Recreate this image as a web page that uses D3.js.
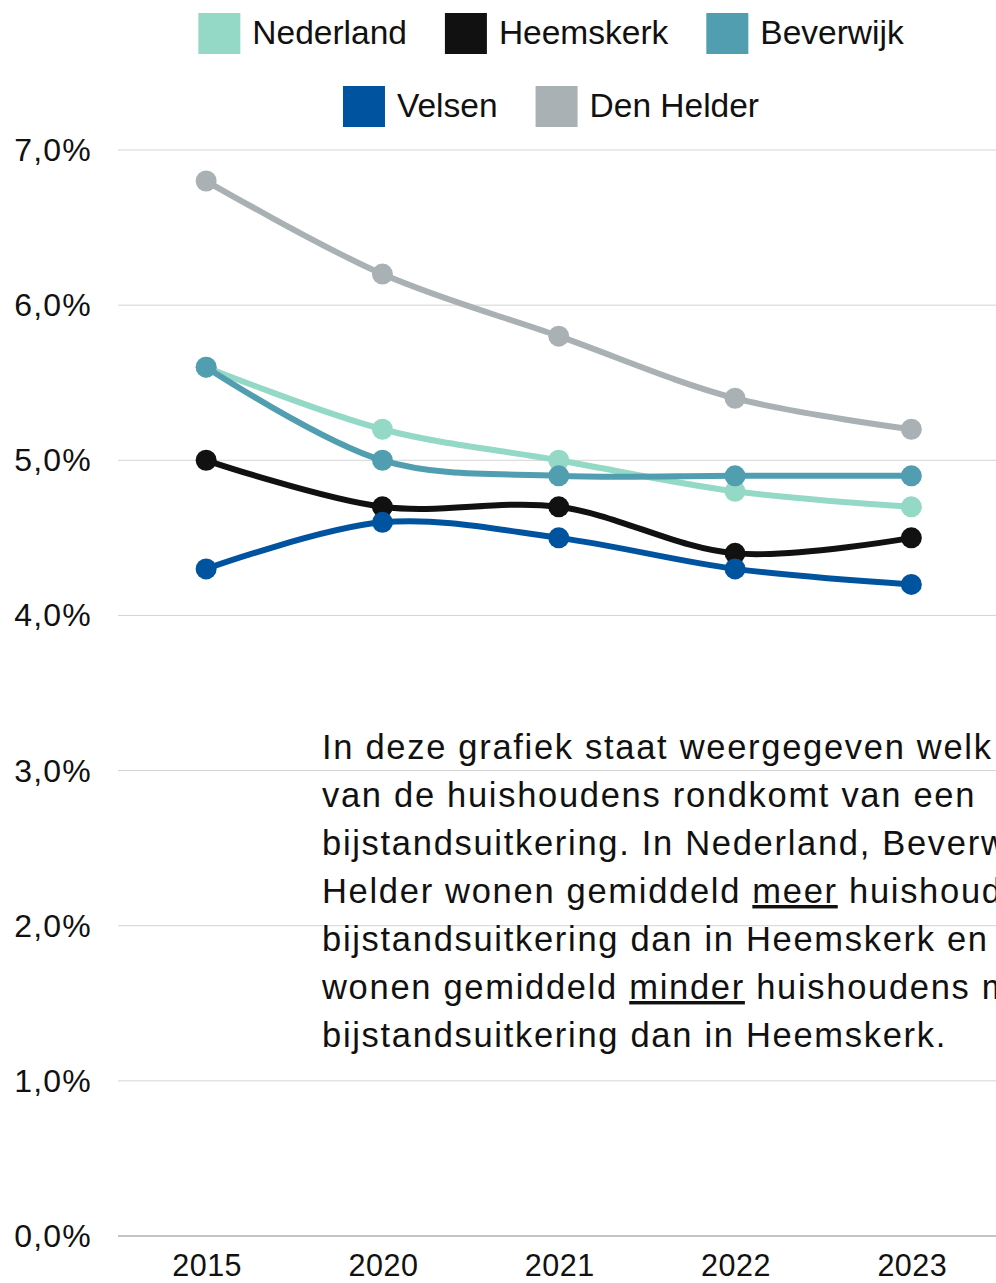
<!DOCTYPE html>
<html lang="nl">
<head>
  <meta charset="UTF-8" />
  <title>Bijstandsuitkering</title>
  <style>
    html, body { margin: 0; padding: 0; background: #ffffff; overflow: hidden; }
    svg { display: block; font-family: "Liberation Sans", Arial, sans-serif; }
    .grid line { stroke: #d4d4d4; stroke-width: 1px; }
    .y-label { font-size: 32px; letter-spacing: 1.2px; fill: #111; }
    .x-label { font-size: 30.5px; letter-spacing: 0.5px; fill: #111; }
    .legend-label { font-size: 33.5px; fill: #111; }
    .note { font-size: 34.5px; letter-spacing: 1.7px; fill: #111; }
  </style>
  <script src="https://d3js.org/d3.v7.min.js"></script>
</head>
<body>
  <svg id="canvas" width="996" height="1283"></svg>

  <script>
    const years = ["2015", "2020", "2021", "2022", "2023"];
    const seriesNames = ["Nederland", "Heemskerk", "Beverwijk", "Velsen", "Den Helder"];
    const colors = ["#94d8c6", "#111111", "#519eb1", "#00539e", "#a9b1b4"];
    const nederland = [5.6, 5.2, 5.0, 4.8, 4.7];
    const heemskerk = [5.0, 4.7, 4.7, 4.4, 4.5];
    const beverwijk = [5.6, 5.0, 4.9, 4.9, 4.9];
    const velsen = [4.3, 4.6, 4.5, 4.3, 4.2];
    const denHelder = [6.8, 6.2, 5.8, 5.4, 5.2];
    const yTicks = [0, 1, 2, 3, 4, 5, 6, 7];
    const noteLines = [
      ["In deze grafiek staat weergegeven welk percentage"],
      ["van de huishoudens rondkomt van een"],
      ["bijstandsuitkering. In Nederland, Beverwijk en Den"],
      ["Helder wonen gemiddeld ", "meer", " huishoudens met een"],
      ["bijstandsuitkering dan in Heemskerk en Velsen. In Velsen"],
      ["wonen gemiddeld ", "minder", " huishoudens met een"],
      ["bijstandsuitkering dan in Heemskerk."]
    ];

    const values = [nederland, heemskerk, beverwijk, velsen, denHelder];
    const svg = d3.select("#canvas");

    const x = d3.scaleBand().domain(years).range([118, 999.5]);
    const y = d3.scaleLinear().domain([0, 7]).range([1236, 150]);

    // gridlines
    const grid = svg.append("g").attr("class", "grid");
    grid.selectAll("line")
      .data(yTicks)
      .join("line")
      .attr("x1", 118)
      .attr("x2", 996)
      .attr("y1", d => y(d))
      .attr("y2", d => y(d))
      .style("stroke", d => d === 0 ? "#8a8a8a" : null);

    // y labels
    svg.append("g").selectAll("text")
      .data(yTicks)
      .join("text")
      .attr("class", "y-label")
      .attr("x", 92)
      .attr("y", d => y(d) + 11)
      .attr("text-anchor", "end")
      .text(d => d3.format(".1f")(d).replace(".", ",") + "%");

    // x labels
    svg.append("g").selectAll("text")
      .data(years)
      .join("text")
      .attr("class", "x-label")
      .attr("x", d => x(d) + x.bandwidth() / 2 + 1)
      .attr("y", 1276)
      .attr("text-anchor", "middle")
      .text(d => d);

    // annotation text
    const note = svg.append("text").attr("class", "note");
    noteLines.forEach((parts, i) => {
      parts.forEach((p, j) => {
        const t = note.append("tspan").text(p);
        if (j === 0) t.attr("x", 322).attr("y", 759 + i * 48);
        if (j === 1) t.attr("text-decoration", "underline");
      });
    });

    // lines
    const line = d3.line()
      .x((d, i) => x(years[i]) + x.bandwidth() / 2)
      .y(d => y(d))
      .curve(d3.curveCatmullRom.alpha(0.5));

    values.forEach((vals, s) => {
      const g = svg.append("g");
      g.append("path")
        .attr("d", line(vals))
        .attr("fill", "none")
        .attr("stroke", colors[s])
        .attr("stroke-width", 6);
      g.selectAll("circle")
        .data(vals)
        .join("circle")
        .attr("cx", (d, i) => x(years[i]) + x.bandwidth() / 2)
        .attr("cy", d => y(d))
        .attr("r", 10.5)
        .attr("fill", colors[s]);
    });

    // legend, two centered rows
    const rows = [[0, 1, 2], [3, 4]];
    const rowY = [13, 86];
    const legend = svg.append("g");
    rows.forEach((row, r) => {
      const items = row.map(s => {
        const g = legend.append("g");
        g.append("rect")
          .attr("width", 42)
          .attr("height", 41)
          .attr("fill", colors[s]);
        const t = g.append("text")
          .attr("class", "legend-label")
          .attr("x", 54)
          .attr("y", 31)
          .text(seriesNames[s]);
        return { g, w: 54 + t.node().getComputedTextLength() };
      });
      const gap = 38;
      const total = d3.sum(items, d => d.w) + gap * (items.length - 1);
      let cx = 551 - total / 2;
      items.forEach(it => {
        it.g.attr("transform", `translate(${cx},${rowY[r]})`);
        cx += it.w + gap;
      });
    });
  </script>
</body>
</html>
